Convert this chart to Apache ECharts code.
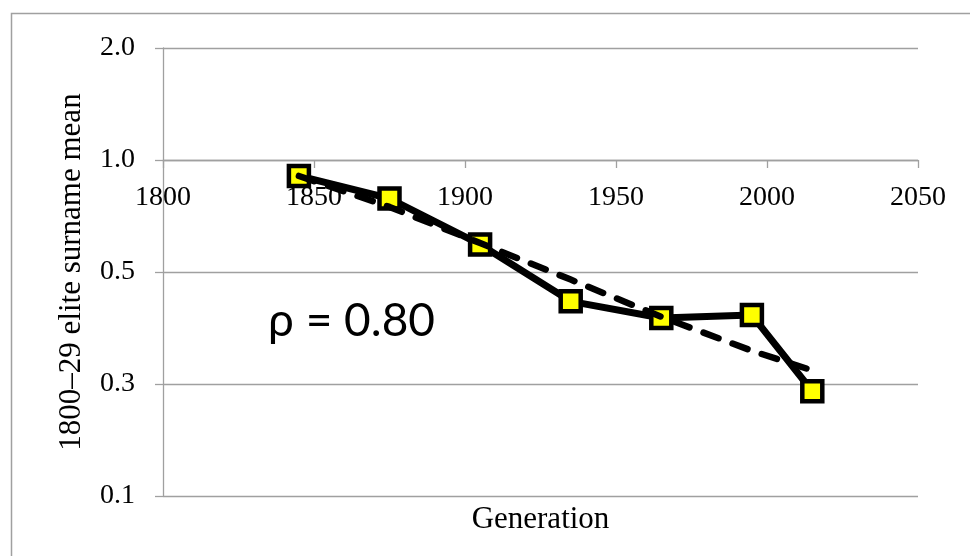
<!DOCTYPE html>
<html>
<head>
<meta charset="utf-8">
<script src="https://cdn.jsdelivr.net/npm/echarts@6/dist/echarts.min.js"></script>
<style>
html,body{margin:0;padding:0;background:#fff;}
#chart{width:970px;height:556px;}
</style>
</head>
<body>
<div id="chart"></div>
<script>
// ---- data ----
const years = [1845, 1875, 1905, 1935, 1965, 1995, 2015];
const observed = [0.906, 0.788, 0.593, 0.417, 0.376, 0.383, 0.239];
const fitted = [0.906, 0.748, 0.598, 0.477, 0.379, 0.307, 0.272];
const xTicks = [1800, 1850, 1900, 1950, 2000, 2050];
const yTickLabels = ['0.1', '0.3', '0.5', '1.0', '2.0']; // log2 ticks 1/8 .. 2
const annotation = 'ρ = 0.80';
const xName = 'Generation';
const yName = '1800–29 elite surname mean';

const obsData = years.map((y, i) => [y, observed[i]]);
const fitData = years.map((y, i) => [y, fitted[i]]);

const gray = '#a0a0a0';
const serif = '"Liberation Serif", "Times New Roman", serif';

const chart = echarts.init(document.getElementById('chart'));
chart.setOption({
  animation: false,
  backgroundColor: '#fff',
  grid: { left: 163, right: 52, top: 48, bottom: 60 },
  xAxis: {
    type: 'value',
    min: xTicks[0],
    max: xTicks[xTicks.length - 1],
    interval: 50,
    position: 'bottom',
    offset: -336,
    name: xName,
    nameLocation: 'middle',
    nameGap: 344,
    nameTextStyle: { fontFamily: serif, fontSize: 31, color: '#000' },
    axisLine: { show: true, lineStyle: { color: gray, width: 1.3 } },
    axisTick: { show: true, length: 8, lineStyle: { color: gray, width: 1.3 } },
    axisLabel: { fontFamily: serif, fontSize: 28, color: '#000', margin: 24,
      formatter: v => String(v) },
    splitLine: { show: false }
  },
  yAxis: {
    type: 'log',
    logBase: 2,
    min: 0.125,
    max: 2,
    splitNumber: 4,
    name: yName,
    nameLocation: 'middle',
    nameGap: 76,
    nameTextStyle: { fontFamily: serif, fontSize: 31, color: '#000' },
    axisLine: { show: true, lineStyle: { color: gray, width: 1.3 } },
    axisTick: { show: true, length: 8, lineStyle: { color: gray, width: 1.3 } },
    axisLabel: { fontFamily: serif, fontSize: 28, color: '#000', margin: 28,
      formatter: v => {
        const idx = Math.round(Math.log2(v)) + 3;
        return yTickLabels[idx] !== undefined ? yTickLabels[idx] : '';
      } },
    splitLine: { show: true, lineStyle: { color: gray, width: 1.3 } }
  },
  graphic: [
    { type: 'rect', left: 9, top: 11, silent: true,
      shape: { x: 0, y: 0, width: 1000, height: 600 },
      style: { fill: 'none', stroke: gray, lineWidth: 1.5 }, z: -1 },
    { type: 'text', left: 268, top: 298,
      style: { text: annotation, font: '46px Lato, "Open Sans", sans-serif', fill: '#000' } }
  ],
  series: [
    {
      type: 'line',
      data: obsData,
      symbol: 'rect',
      symbolSize: 20,
      z: 2,
      lineStyle: { color: '#000', width: 7, join: 'round' },
      itemStyle: { color: '#ffff00', borderColor: '#000', borderWidth: 4.5 }
    },
    {
      type: 'line',
      data: fitData,
      symbol: 'none',
      z: 3,
      lineStyle: { color: '#000', width: 6.5, type: [16, 15], cap: 'round', join: 'round' }
    }
  ]
});
</script>
</body>
</html>
